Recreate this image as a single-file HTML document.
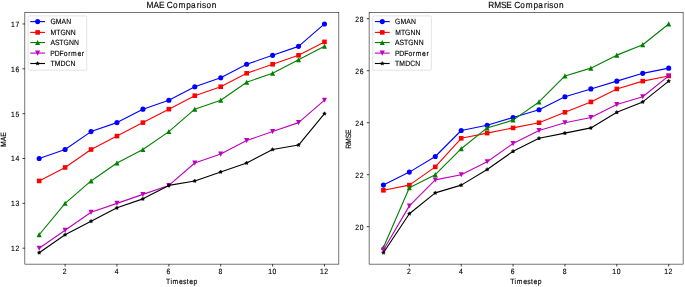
<!DOCTYPE html>
<html><head><meta charset="utf-8"><title>MAE and RMSE Comparison</title>
<style>
html,body{margin:0;padding:0;background:#fff;}
body{width:685px;height:287px;overflow:hidden;}
svg{display:block;will-change:transform;font-family:"Liberation Sans",sans-serif;fill:#000;}
text{stroke:#000;stroke-width:0.12px;text-rendering:geometricPrecision;}
</style></head><body>
<svg width="685" height="287" viewBox="0 0 685 287">
<rect width="685" height="287" fill="#fff"/>
<g>
<polyline points="39.17,158.50 65.10,149.53 91.04,131.59 116.98,122.62 142.92,109.16 168.86,100.19 194.79,86.73 220.73,77.76 246.67,64.31 272.61,55.34 298.55,46.36 324.48,23.94" fill="none" stroke="#0000ff" stroke-width="1.12" stroke-linejoin="round"/>
<circle cx="39.17" cy="158.50" r="2.55" fill="#0000ff"/>
<circle cx="65.10" cy="149.53" r="2.55" fill="#0000ff"/>
<circle cx="91.04" cy="131.59" r="2.55" fill="#0000ff"/>
<circle cx="116.98" cy="122.62" r="2.55" fill="#0000ff"/>
<circle cx="142.92" cy="109.16" r="2.55" fill="#0000ff"/>
<circle cx="168.86" cy="100.19" r="2.55" fill="#0000ff"/>
<circle cx="194.79" cy="86.73" r="2.55" fill="#0000ff"/>
<circle cx="220.73" cy="77.76" r="2.55" fill="#0000ff"/>
<circle cx="246.67" cy="64.31" r="2.55" fill="#0000ff"/>
<circle cx="272.61" cy="55.34" r="2.55" fill="#0000ff"/>
<circle cx="298.55" cy="46.36" r="2.55" fill="#0000ff"/>
<circle cx="324.48" cy="23.94" r="2.55" fill="#0000ff"/>
<polyline points="39.17,180.93 65.10,167.47 91.04,149.53 116.98,136.07 142.92,122.62 168.86,109.16 194.79,95.70 220.73,86.73 246.67,73.28 272.61,64.31 298.55,55.34 324.48,41.88" fill="none" stroke="#ff0000" stroke-width="1.12" stroke-linejoin="round"/>
<rect x="36.87" y="178.63" width="4.60" height="4.60" fill="#ff0000"/>
<rect x="62.80" y="165.17" width="4.60" height="4.60" fill="#ff0000"/>
<rect x="88.74" y="147.23" width="4.60" height="4.60" fill="#ff0000"/>
<rect x="114.68" y="133.77" width="4.60" height="4.60" fill="#ff0000"/>
<rect x="140.62" y="120.32" width="4.60" height="4.60" fill="#ff0000"/>
<rect x="166.56" y="106.86" width="4.60" height="4.60" fill="#ff0000"/>
<rect x="192.49" y="93.40" width="4.60" height="4.60" fill="#ff0000"/>
<rect x="218.43" y="84.43" width="4.60" height="4.60" fill="#ff0000"/>
<rect x="244.37" y="70.98" width="4.60" height="4.60" fill="#ff0000"/>
<rect x="270.31" y="62.01" width="4.60" height="4.60" fill="#ff0000"/>
<rect x="296.25" y="53.04" width="4.60" height="4.60" fill="#ff0000"/>
<rect x="322.18" y="39.58" width="4.60" height="4.60" fill="#ff0000"/>
<polyline points="39.17,234.75 65.10,203.35 91.04,180.93 116.98,162.98 142.92,149.53 168.86,131.59 194.79,109.16 220.73,100.19 246.67,82.25 272.61,73.28 298.55,59.82 324.48,46.36" fill="none" stroke="#008000" stroke-width="1.12" stroke-linejoin="round"/>
<path d="M39.17 232.10L41.72 237.25L36.62 237.25Z" fill="#008000"/>
<path d="M65.10 200.70L67.65 205.85L62.55 205.85Z" fill="#008000"/>
<path d="M91.04 178.28L93.59 183.43L88.49 183.43Z" fill="#008000"/>
<path d="M116.98 160.33L119.53 165.48L114.43 165.48Z" fill="#008000"/>
<path d="M142.92 146.88L145.47 152.03L140.37 152.03Z" fill="#008000"/>
<path d="M168.86 128.94L171.41 134.09L166.31 134.09Z" fill="#008000"/>
<path d="M194.79 106.51L197.34 111.66L192.24 111.66Z" fill="#008000"/>
<path d="M220.73 97.54L223.28 102.69L218.18 102.69Z" fill="#008000"/>
<path d="M246.67 79.60L249.22 84.75L244.12 84.75Z" fill="#008000"/>
<path d="M272.61 70.63L275.16 75.78L270.06 75.78Z" fill="#008000"/>
<path d="M298.55 57.17L301.10 62.32L296.00 62.32Z" fill="#008000"/>
<path d="M324.48 43.71L327.03 48.86L321.93 48.86Z" fill="#008000"/>
<polyline points="39.17,248.21 65.10,230.27 91.04,212.32 116.98,203.35 142.92,194.38 168.86,185.41 194.79,162.98 220.73,154.01 246.67,140.56 272.61,131.59 298.55,122.62 324.48,100.19" fill="none" stroke="#bf00bf" stroke-width="1.12" stroke-linejoin="round"/>
<path d="M39.17 250.86L41.72 245.71L36.62 245.71Z" fill="#bf00bf"/>
<path d="M65.10 232.92L67.65 227.77L62.55 227.77Z" fill="#bf00bf"/>
<path d="M91.04 214.97L93.59 209.82L88.49 209.82Z" fill="#bf00bf"/>
<path d="M116.98 206.00L119.53 200.85L114.43 200.85Z" fill="#bf00bf"/>
<path d="M142.92 197.03L145.47 191.88L140.37 191.88Z" fill="#bf00bf"/>
<path d="M168.86 188.06L171.41 182.91L166.31 182.91Z" fill="#bf00bf"/>
<path d="M194.79 165.63L197.34 160.48L192.24 160.48Z" fill="#bf00bf"/>
<path d="M220.73 156.66L223.28 151.51L218.18 151.51Z" fill="#bf00bf"/>
<path d="M246.67 143.21L249.22 138.06L244.12 138.06Z" fill="#bf00bf"/>
<path d="M272.61 134.24L275.16 129.09L270.06 129.09Z" fill="#bf00bf"/>
<path d="M298.55 125.27L301.10 120.12L296.00 120.12Z" fill="#bf00bf"/>
<path d="M324.48 102.84L327.03 97.69L321.93 97.69Z" fill="#bf00bf"/>
<polyline points="39.17,252.69 65.10,234.75 91.04,221.29 116.98,207.84 142.92,198.87 168.86,185.41 194.79,180.93 220.73,171.96 246.67,162.98 272.61,149.53 298.55,145.04 324.48,113.65" fill="none" stroke="#000000" stroke-width="1.12" stroke-linejoin="round"/>
<path d="M39.17 250.74L39.80 251.82L41.02 252.09L40.19 253.02L40.31 254.27L39.17 253.76L38.02 254.27L38.15 253.02L37.31 252.09L38.54 251.82Z" fill="#000000" stroke="#000000" stroke-width="0.4" stroke-linejoin="round"/>
<path d="M65.10 232.80L65.73 233.88L66.96 234.15L66.12 235.08L66.25 236.33L65.10 235.82L63.96 236.33L64.08 235.08L63.25 234.15L64.47 233.88Z" fill="#000000" stroke="#000000" stroke-width="0.4" stroke-linejoin="round"/>
<path d="M91.04 219.34L91.67 220.43L92.90 220.69L92.06 221.63L92.19 222.87L91.04 222.37L89.90 222.87L90.02 221.63L89.19 220.69L90.41 220.43Z" fill="#000000" stroke="#000000" stroke-width="0.4" stroke-linejoin="round"/>
<path d="M116.98 205.89L117.61 206.97L118.83 207.24L118.00 208.17L118.13 209.42L116.98 208.91L115.83 209.42L115.96 208.17L115.13 207.24L116.35 206.97Z" fill="#000000" stroke="#000000" stroke-width="0.4" stroke-linejoin="round"/>
<path d="M142.92 196.92L143.55 198.00L144.77 198.27L143.94 199.20L144.06 200.45L142.92 199.94L141.77 200.45L141.90 199.20L141.06 198.27L142.29 198.00Z" fill="#000000" stroke="#000000" stroke-width="0.4" stroke-linejoin="round"/>
<path d="M168.86 183.46L169.49 184.54L170.71 184.81L169.88 185.74L170.00 186.99L168.86 186.48L167.71 186.99L167.84 185.74L167.00 184.81L168.23 184.54Z" fill="#000000" stroke="#000000" stroke-width="0.4" stroke-linejoin="round"/>
<path d="M194.79 178.98L195.42 180.06L196.65 180.32L195.81 181.26L195.94 182.50L194.79 182.00L193.65 182.50L193.77 181.26L192.94 180.32L194.16 180.06Z" fill="#000000" stroke="#000000" stroke-width="0.4" stroke-linejoin="round"/>
<path d="M220.73 170.01L221.36 171.09L222.59 171.35L221.75 172.29L221.88 173.53L220.73 173.03L219.59 173.53L219.71 172.29L218.88 171.35L220.10 171.09Z" fill="#000000" stroke="#000000" stroke-width="0.4" stroke-linejoin="round"/>
<path d="M246.67 161.03L247.30 162.12L248.52 162.38L247.69 163.32L247.82 164.56L246.67 164.06L245.52 164.56L245.65 163.32L244.82 162.38L246.04 162.12Z" fill="#000000" stroke="#000000" stroke-width="0.4" stroke-linejoin="round"/>
<path d="M272.61 147.58L273.24 148.66L274.46 148.93L273.63 149.86L273.75 151.11L272.61 150.60L271.46 151.11L271.59 149.86L270.75 148.93L271.98 148.66Z" fill="#000000" stroke="#000000" stroke-width="0.4" stroke-linejoin="round"/>
<path d="M298.55 143.09L299.18 144.18L300.40 144.44L299.57 145.37L299.69 146.62L298.55 146.12L297.40 146.62L297.53 145.37L296.69 144.44L297.92 144.18Z" fill="#000000" stroke="#000000" stroke-width="0.4" stroke-linejoin="round"/>
<path d="M324.48 111.70L325.11 112.78L326.34 113.04L325.50 113.98L325.63 115.22L324.48 114.72L323.34 115.22L323.46 113.98L322.63 113.04L323.85 112.78Z" fill="#000000" stroke="#000000" stroke-width="0.4" stroke-linejoin="round"/>
<rect x="24.85" y="12.50" width="314.00" height="251.63" fill="none" stroke="#000" stroke-width="0.54"/>
<line x1="65.10" y1="264.13" x2="65.10" y2="266.51" stroke="#000" stroke-width="0.75"/>
<text transform="translate(64.70 274.07) scale(1 1.12)" x="-1.99" y="0" font-size="6.81">2</text>
<line x1="116.98" y1="264.13" x2="116.98" y2="266.51" stroke="#000" stroke-width="0.75"/>
<text transform="translate(116.58 274.07) scale(1 1.12)" x="-1.90" y="0" font-size="6.81">4</text>
<line x1="168.86" y1="264.13" x2="168.86" y2="266.51" stroke="#000" stroke-width="0.75"/>
<text transform="translate(168.46 274.07) scale(1 1.12)" x="-1.89" y="0" font-size="6.81">6</text>
<line x1="220.73" y1="264.13" x2="220.73" y2="266.51" stroke="#000" stroke-width="0.75"/>
<text transform="translate(220.33 274.07) scale(1 1.12)" x="-1.90" y="0" font-size="6.81">8</text>
<line x1="272.61" y1="264.13" x2="272.61" y2="266.51" stroke="#000" stroke-width="0.75"/>
<text transform="translate(272.21 274.07) scale(1 1.12)" x="-4.09 0.27" y="0" font-size="6.81">10</text>
<line x1="324.48" y1="264.13" x2="324.48" y2="266.51" stroke="#000" stroke-width="0.75"/>
<text transform="translate(324.08 274.07) scale(1 1.12)" x="-4.09 0.18" y="0" font-size="6.81">12</text>
<line x1="24.90" y1="248.21" x2="22.52" y2="248.21" stroke="#000" stroke-width="0.75"/>
<text transform="translate(19.53 251.19) scale(1 1.12)" x="-8.43 -4.15" y="0" font-size="6.81">12</text>
<line x1="24.90" y1="203.35" x2="22.52" y2="203.35" stroke="#000" stroke-width="0.75"/>
<text transform="translate(19.53 206.34) scale(1 1.12)" x="-8.43 -4.05" y="0" font-size="6.81">13</text>
<line x1="24.90" y1="158.50" x2="22.52" y2="158.50" stroke="#000" stroke-width="0.75"/>
<text transform="translate(19.53 161.48) scale(1 1.12)" x="-8.43 -4.06" y="0" font-size="6.81">14</text>
<line x1="24.90" y1="113.65" x2="22.52" y2="113.65" stroke="#000" stroke-width="0.75"/>
<text transform="translate(19.53 116.63) scale(1 1.12)" x="-8.43 -4.09" y="0" font-size="6.81">15</text>
<line x1="24.90" y1="68.79" x2="22.52" y2="68.79" stroke="#000" stroke-width="0.75"/>
<text transform="translate(19.53 71.78) scale(1 1.12)" x="-8.43 -4.06" y="0" font-size="6.81">16</text>
<line x1="24.90" y1="23.94" x2="22.52" y2="23.94" stroke="#000" stroke-width="0.75"/>
<text transform="translate(19.53 26.92) scale(1 1.12)" x="-8.43 -4.08" y="0" font-size="6.81">17</text>
<text transform="translate(181.45 8.10) scale(1 1.09)" x="-35.00 -27.91 -22.48 -17.08 -14.60 -8.44 -3.00 4.84 9.65 15.28 18.43 20.64 25.04 30.22" y="0" font-size="8.28">MAE Comparison</text>
<text transform="translate(181.82 283.80) scale(1 1.12)" x="-15.80 -11.45 -9.25 -2.90 1.19 4.99 7.50 11.79" y="0" font-size="6.81">Timestep</text>
<text transform="translate(5.95 139.72) rotate(-90) scale(1 1.12)" x="-7.32 -1.49 2.98" y="0" font-size="6.81">MAE</text>
<rect x="28.10" y="15.90" width="58.60" height="54.30" rx="1.4" fill="#fff" fill-opacity="0.8" stroke="#ccc" stroke-opacity="0.8" stroke-width="0.68"/>
<line x1="30.82" y1="21.60" x2="44.44" y2="21.60" stroke="#0000ff" stroke-width="1.12" stroke-linecap="square"/>
<circle cx="37.63" cy="21.60" r="2.55" fill="#0000ff"/>
<text transform="translate(50.39 24.49) scale(1 1.12)" x="-0.01 5.38 11.21 15.90" y="0" font-size="6.81">GMAN</text>
<line x1="30.82" y1="32.40" x2="44.44" y2="32.40" stroke="#ff0000" stroke-width="1.12" stroke-linecap="square"/>
<rect x="35.33" y="30.10" width="4.60" height="4.60" fill="#ff0000"/>
<text transform="translate(50.39 35.29) scale(1 1.12)" x="0.10 5.88 10.02 15.40 20.49" y="0" font-size="6.81">MTGNN</text>
<line x1="30.82" y1="42.55" x2="44.44" y2="42.55" stroke="#008000" stroke-width="1.12" stroke-linecap="square"/>
<path d="M37.63 39.90L40.18 45.05L35.08 45.05Z" fill="#008000"/>
<text transform="translate(50.39 45.44) scale(1 1.12)" x="0.06 4.59 8.98 13.13 18.50 23.60" y="0" font-size="6.81">ASTGNN</text>
<line x1="30.82" y1="53.10" x2="44.44" y2="53.10" stroke="#bf00bf" stroke-width="1.12" stroke-linecap="square"/>
<path d="M37.63 55.75L40.18 50.60L35.08 50.60Z" fill="#bf00bf"/>
<text transform="translate(50.39 55.99) scale(1 1.12)" x="-0.10 4.29 9.22 13.46 17.84 20.73 27.08 31.46" y="0" font-size="6.81">PDFormer</text>
<line x1="30.82" y1="63.50" x2="44.44" y2="63.50" stroke="#000000" stroke-width="1.12" stroke-linecap="square"/>
<path d="M37.63 61.55L38.26 62.63L39.49 62.90L38.65 63.83L38.78 65.08L37.63 64.57L36.49 65.08L36.61 63.83L35.78 62.90L37.00 62.63Z" fill="#000000" stroke="#000000" stroke-width="0.4" stroke-linejoin="round"/>
<text transform="translate(50.39 66.39) scale(1 1.12)" x="0.00 4.26 10.21 15.16 20.12" y="0" font-size="6.81">TMDCN</text>
</g>
<g>
<polyline points="383.41,185.11 409.35,172.11 435.28,156.51 461.22,130.52 487.15,125.32 513.08,117.52 539.02,109.72 564.95,96.72 590.88,88.92 616.82,81.13 642.75,73.33 668.69,68.13" fill="none" stroke="#0000ff" stroke-width="1.12" stroke-linejoin="round"/>
<circle cx="383.41" cy="185.11" r="2.55" fill="#0000ff"/>
<circle cx="409.35" cy="172.11" r="2.55" fill="#0000ff"/>
<circle cx="435.28" cy="156.51" r="2.55" fill="#0000ff"/>
<circle cx="461.22" cy="130.52" r="2.55" fill="#0000ff"/>
<circle cx="487.15" cy="125.32" r="2.55" fill="#0000ff"/>
<circle cx="513.08" cy="117.52" r="2.55" fill="#0000ff"/>
<circle cx="539.02" cy="109.72" r="2.55" fill="#0000ff"/>
<circle cx="564.95" cy="96.72" r="2.55" fill="#0000ff"/>
<circle cx="590.88" cy="88.92" r="2.55" fill="#0000ff"/>
<circle cx="616.82" cy="81.13" r="2.55" fill="#0000ff"/>
<circle cx="642.75" cy="73.33" r="2.55" fill="#0000ff"/>
<circle cx="668.69" cy="68.13" r="2.55" fill="#0000ff"/>
<polyline points="383.41,190.30 409.35,185.11 435.28,166.91 461.22,138.32 487.15,133.12 513.08,127.92 539.02,122.72 564.95,112.32 590.88,101.92 616.82,88.92 642.75,81.13 668.69,75.93" fill="none" stroke="#ff0000" stroke-width="1.12" stroke-linejoin="round"/>
<rect x="381.11" y="188.00" width="4.60" height="4.60" fill="#ff0000"/>
<rect x="407.05" y="182.81" width="4.60" height="4.60" fill="#ff0000"/>
<rect x="432.98" y="164.61" width="4.60" height="4.60" fill="#ff0000"/>
<rect x="458.92" y="136.02" width="4.60" height="4.60" fill="#ff0000"/>
<rect x="484.85" y="130.82" width="4.60" height="4.60" fill="#ff0000"/>
<rect x="510.78" y="125.62" width="4.60" height="4.60" fill="#ff0000"/>
<rect x="536.72" y="120.42" width="4.60" height="4.60" fill="#ff0000"/>
<rect x="562.65" y="110.02" width="4.60" height="4.60" fill="#ff0000"/>
<rect x="588.58" y="99.62" width="4.60" height="4.60" fill="#ff0000"/>
<rect x="614.52" y="86.62" width="4.60" height="4.60" fill="#ff0000"/>
<rect x="640.45" y="78.83" width="4.60" height="4.60" fill="#ff0000"/>
<rect x="666.39" y="73.63" width="4.60" height="4.60" fill="#ff0000"/>
<polyline points="383.41,247.49 409.35,187.71 435.28,174.71 461.22,148.71 487.15,127.92 513.08,120.12 539.02,101.92 564.95,75.93 590.88,68.13 616.82,55.13 642.75,44.73 668.69,23.94" fill="none" stroke="#008000" stroke-width="1.12" stroke-linejoin="round"/>
<path d="M383.41 244.84L385.96 249.99L380.86 249.99Z" fill="#008000"/>
<path d="M409.35 185.06L411.90 190.21L406.80 190.21Z" fill="#008000"/>
<path d="M435.28 172.06L437.83 177.21L432.73 177.21Z" fill="#008000"/>
<path d="M461.22 146.06L463.77 151.21L458.67 151.21Z" fill="#008000"/>
<path d="M487.15 125.27L489.70 130.42L484.60 130.42Z" fill="#008000"/>
<path d="M513.08 117.47L515.63 122.62L510.53 122.62Z" fill="#008000"/>
<path d="M539.02 99.27L541.57 104.42L536.47 104.42Z" fill="#008000"/>
<path d="M564.95 73.28L567.50 78.43L562.40 78.43Z" fill="#008000"/>
<path d="M590.88 65.48L593.43 70.63L588.33 70.63Z" fill="#008000"/>
<path d="M616.82 52.48L619.37 57.63L614.27 57.63Z" fill="#008000"/>
<path d="M642.75 42.08L645.30 47.23L640.20 47.23Z" fill="#008000"/>
<path d="M668.69 21.29L671.24 26.44L666.14 26.44Z" fill="#008000"/>
<polyline points="383.41,250.09 409.35,205.90 435.28,179.91 461.22,174.71 487.15,161.71 513.08,143.51 539.02,130.52 564.95,122.72 590.88,117.52 616.82,104.52 642.75,96.72 668.69,75.93" fill="none" stroke="#bf00bf" stroke-width="1.12" stroke-linejoin="round"/>
<path d="M383.41 252.74L385.96 247.59L380.86 247.59Z" fill="#bf00bf"/>
<path d="M409.35 208.55L411.90 203.40L406.80 203.40Z" fill="#bf00bf"/>
<path d="M435.28 182.56L437.83 177.41L432.73 177.41Z" fill="#bf00bf"/>
<path d="M461.22 177.36L463.77 172.21L458.67 172.21Z" fill="#bf00bf"/>
<path d="M487.15 164.36L489.70 159.21L484.60 159.21Z" fill="#bf00bf"/>
<path d="M513.08 146.16L515.63 141.01L510.53 141.01Z" fill="#bf00bf"/>
<path d="M539.02 133.17L541.57 128.02L536.47 128.02Z" fill="#bf00bf"/>
<path d="M564.95 125.37L567.50 120.22L562.40 120.22Z" fill="#bf00bf"/>
<path d="M590.88 120.17L593.43 115.02L588.33 115.02Z" fill="#bf00bf"/>
<path d="M616.82 107.17L619.37 102.02L614.27 102.02Z" fill="#bf00bf"/>
<path d="M642.75 99.37L645.30 94.22L640.20 94.22Z" fill="#bf00bf"/>
<path d="M668.69 78.58L671.24 73.43L666.14 73.43Z" fill="#bf00bf"/>
<polyline points="383.41,252.69 409.35,213.70 435.28,192.90 461.22,185.11 487.15,169.51 513.08,151.31 539.02,138.32 564.95,133.12 590.88,127.92 616.82,112.32 642.75,101.92 668.69,81.13" fill="none" stroke="#000000" stroke-width="1.12" stroke-linejoin="round"/>
<path d="M383.41 250.74L384.04 251.82L385.27 252.09L384.43 253.02L384.56 254.27L383.41 253.76L382.27 254.27L382.39 253.02L381.56 252.09L382.78 251.82Z" fill="#000000" stroke="#000000" stroke-width="0.4" stroke-linejoin="round"/>
<path d="M409.35 211.75L409.98 212.83L411.20 213.10L410.37 214.03L410.49 215.28L409.35 214.77L408.20 215.28L408.33 214.03L407.49 213.10L408.72 212.83Z" fill="#000000" stroke="#000000" stroke-width="0.4" stroke-linejoin="round"/>
<path d="M435.28 190.95L435.91 192.04L437.14 192.30L436.30 193.24L436.43 194.48L435.28 193.98L434.14 194.48L434.26 193.24L433.43 192.30L434.65 192.04Z" fill="#000000" stroke="#000000" stroke-width="0.4" stroke-linejoin="round"/>
<path d="M461.22 183.16L461.85 184.24L463.07 184.50L462.24 185.44L462.36 186.68L461.22 186.18L460.07 186.68L460.20 185.44L459.36 184.50L460.58 184.24Z" fill="#000000" stroke="#000000" stroke-width="0.4" stroke-linejoin="round"/>
<path d="M487.15 167.56L487.78 168.64L489.00 168.91L488.17 169.84L488.30 171.09L487.15 170.58L486.00 171.09L486.13 169.84L485.29 168.91L486.52 168.64Z" fill="#000000" stroke="#000000" stroke-width="0.4" stroke-linejoin="round"/>
<path d="M513.08 149.36L513.71 150.44L514.94 150.71L514.10 151.64L514.23 152.89L513.08 152.38L511.94 152.89L512.06 151.64L511.23 150.71L512.45 150.44Z" fill="#000000" stroke="#000000" stroke-width="0.4" stroke-linejoin="round"/>
<path d="M539.02 136.37L539.65 137.45L540.87 137.71L540.04 138.65L540.16 139.89L539.02 139.39L537.87 139.89L538.00 138.65L537.16 137.71L538.39 137.45Z" fill="#000000" stroke="#000000" stroke-width="0.4" stroke-linejoin="round"/>
<path d="M564.95 131.17L565.58 132.25L566.81 132.51L565.97 133.45L566.10 134.69L564.95 134.19L563.80 134.69L563.93 133.45L563.10 132.51L564.32 132.25Z" fill="#000000" stroke="#000000" stroke-width="0.4" stroke-linejoin="round"/>
<path d="M590.88 125.97L591.52 127.05L592.74 127.31L591.90 128.25L592.03 129.49L590.88 128.99L589.74 129.49L589.86 128.25L589.03 127.31L590.25 127.05Z" fill="#000000" stroke="#000000" stroke-width="0.4" stroke-linejoin="round"/>
<path d="M616.82 110.37L617.45 111.45L618.67 111.72L617.84 112.65L617.96 113.90L616.82 113.39L615.67 113.90L615.80 112.65L614.96 111.72L616.19 111.45Z" fill="#000000" stroke="#000000" stroke-width="0.4" stroke-linejoin="round"/>
<path d="M642.75 99.97L643.38 101.05L644.61 101.32L643.77 102.25L643.90 103.50L642.75 102.99L641.61 103.50L641.73 102.25L640.90 101.32L642.12 101.05Z" fill="#000000" stroke="#000000" stroke-width="0.4" stroke-linejoin="round"/>
<path d="M668.69 79.18L669.32 80.26L670.54 80.52L669.71 81.46L669.83 82.70L668.69 82.20L667.54 82.70L667.67 81.46L666.83 80.52L668.06 80.26Z" fill="#000000" stroke="#000000" stroke-width="0.4" stroke-linejoin="round"/>
<rect x="369.11" y="12.50" width="314.00" height="251.63" fill="none" stroke="#000" stroke-width="0.54"/>
<line x1="409.35" y1="264.13" x2="409.35" y2="266.51" stroke="#000" stroke-width="0.75"/>
<text transform="translate(408.95 274.07) scale(1 1.12)" x="-1.99" y="0" font-size="6.81">2</text>
<line x1="461.22" y1="264.13" x2="461.22" y2="266.51" stroke="#000" stroke-width="0.75"/>
<text transform="translate(460.82 274.07) scale(1 1.12)" x="-1.90" y="0" font-size="6.81">4</text>
<line x1="513.08" y1="264.13" x2="513.08" y2="266.51" stroke="#000" stroke-width="0.75"/>
<text transform="translate(512.68 274.07) scale(1 1.12)" x="-1.89" y="0" font-size="6.81">6</text>
<line x1="564.95" y1="264.13" x2="564.95" y2="266.51" stroke="#000" stroke-width="0.75"/>
<text transform="translate(564.55 274.07) scale(1 1.12)" x="-1.90" y="0" font-size="6.81">8</text>
<line x1="616.82" y1="264.13" x2="616.82" y2="266.51" stroke="#000" stroke-width="0.75"/>
<text transform="translate(616.42 274.07) scale(1 1.12)" x="-4.09 0.27" y="0" font-size="6.81">10</text>
<line x1="668.69" y1="264.13" x2="668.69" y2="266.51" stroke="#000" stroke-width="0.75"/>
<text transform="translate(668.29 274.07) scale(1 1.12)" x="-4.09 0.18" y="0" font-size="6.81">12</text>
<line x1="369.15" y1="226.70" x2="366.77" y2="226.70" stroke="#000" stroke-width="0.75"/>
<text transform="translate(363.78 229.68) scale(1 1.12)" x="-8.48 -4.06" y="0" font-size="6.81">20</text>
<line x1="369.15" y1="174.71" x2="366.77" y2="174.71" stroke="#000" stroke-width="0.75"/>
<text transform="translate(363.78 177.69) scale(1 1.12)" x="-8.48 -4.15" y="0" font-size="6.81">22</text>
<line x1="369.15" y1="122.72" x2="366.77" y2="122.72" stroke="#000" stroke-width="0.75"/>
<text transform="translate(363.78 125.70) scale(1 1.12)" x="-8.48 -4.06" y="0" font-size="6.81">24</text>
<line x1="369.15" y1="70.73" x2="366.77" y2="70.73" stroke="#000" stroke-width="0.75"/>
<text transform="translate(363.78 73.71) scale(1 1.12)" x="-8.48 -4.06" y="0" font-size="6.81">26</text>
<line x1="369.15" y1="18.74" x2="366.77" y2="18.74" stroke="#000" stroke-width="0.75"/>
<text transform="translate(363.78 21.72) scale(1 1.12)" x="-8.48 -4.06" y="0" font-size="6.81">28</text>
<text transform="translate(526.05 8.10) scale(1 1.09)" x="-37.77 -31.92 -24.99 -19.81 -14.41 -11.92 -5.77 -0.33 7.52 12.32 17.96 21.10 23.31 27.71 32.89" y="0" font-size="8.28">RMSE Comparison</text>
<text transform="translate(526.05 283.80) scale(1 1.12)" x="-15.80 -11.45 -9.25 -2.90 1.19 4.99 7.50 11.79" y="0" font-size="6.81">Timestep</text>
<text transform="translate(351.30 139.22) rotate(-90) scale(1 1.12)" x="-9.59 -4.78 0.92 5.18" y="0" font-size="6.81">RMSE</text>
<rect x="372.75" y="15.90" width="58.60" height="54.30" rx="1.4" fill="#fff" fill-opacity="0.8" stroke="#ccc" stroke-opacity="0.8" stroke-width="0.68"/>
<line x1="375.47" y1="21.60" x2="389.09" y2="21.60" stroke="#0000ff" stroke-width="1.12" stroke-linecap="square"/>
<circle cx="382.28" cy="21.60" r="2.55" fill="#0000ff"/>
<text transform="translate(395.04 24.49) scale(1 1.12)" x="-0.01 5.38 11.21 15.90" y="0" font-size="6.81">GMAN</text>
<line x1="375.47" y1="32.40" x2="389.09" y2="32.40" stroke="#ff0000" stroke-width="1.12" stroke-linecap="square"/>
<rect x="379.98" y="30.10" width="4.60" height="4.60" fill="#ff0000"/>
<text transform="translate(395.04 35.29) scale(1 1.12)" x="0.10 5.88 10.02 15.40 20.49" y="0" font-size="6.81">MTGNN</text>
<line x1="375.47" y1="42.55" x2="389.09" y2="42.55" stroke="#008000" stroke-width="1.12" stroke-linecap="square"/>
<path d="M382.28 39.90L384.83 45.05L379.73 45.05Z" fill="#008000"/>
<text transform="translate(395.04 45.44) scale(1 1.12)" x="0.06 4.59 8.98 13.13 18.50 23.60" y="0" font-size="6.81">ASTGNN</text>
<line x1="375.47" y1="53.10" x2="389.09" y2="53.10" stroke="#bf00bf" stroke-width="1.12" stroke-linecap="square"/>
<path d="M382.28 55.75L384.83 50.60L379.73 50.60Z" fill="#bf00bf"/>
<text transform="translate(395.04 55.99) scale(1 1.12)" x="-0.10 4.29 9.22 13.46 17.84 20.73 27.08 31.46" y="0" font-size="6.81">PDFormer</text>
<line x1="375.47" y1="63.50" x2="389.09" y2="63.50" stroke="#000000" stroke-width="1.12" stroke-linecap="square"/>
<path d="M382.28 61.55L382.91 62.63L384.14 62.90L383.30 63.83L383.43 65.08L382.28 64.57L381.14 65.08L381.26 63.83L380.43 62.90L381.65 62.63Z" fill="#000000" stroke="#000000" stroke-width="0.4" stroke-linejoin="round"/>
<text transform="translate(395.04 66.39) scale(1 1.12)" x="0.00 4.26 10.21 15.16 20.12" y="0" font-size="6.81">TMDCN</text>
</g>
</svg>
</body></html>
